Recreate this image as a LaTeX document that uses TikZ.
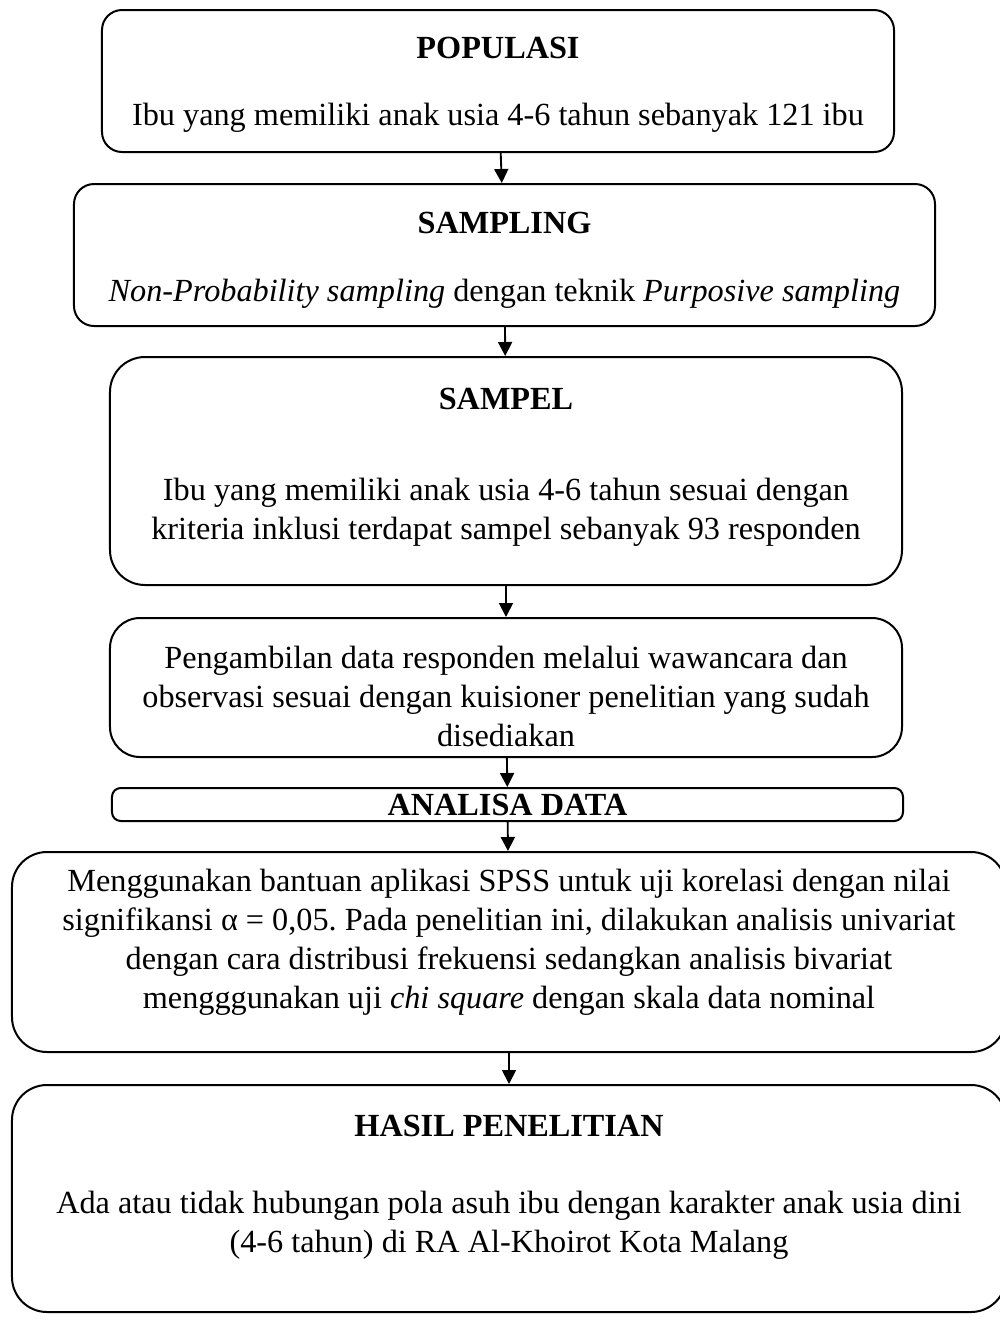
\documentclass[tikz,border=0pt]{standalone}
\usepackage{fontspec}
\setmainfont{Liberation Serif}
\usetikzlibrary{arrows.meta,positioning}
\frenchspacing
\newcommand{\pushdown}[1]{\rule{0pt}{#1}}
\newcommand{\pushup}[1]{\rule[-#1]{0pt}{#1}}
\tikzset{
  box/.style={draw,thick,align=center,inner sep=0pt,rounded corners=8pt,font=\fontsize{12.9pt}{15.6pt}\selectfont},
  bigbox/.style={box,rounded corners=14pt},
  arr/.style={-{Triangle[length=5.6pt,width=5.6pt]},line width=0.75pt}
}

\begin{document}
\begin{tikzpicture}[x=0.4pt,y=-0.4pt]
  \useasboundingbox (0,0) rectangle (1000,1322);

  % Populasi and sampling
  \node[box,minimum width=316.8pt,minimum height=56.8pt] (pop) at (498,81)
    {\pushdown{11.7pt}\textbf{POPULASI}\\[11.2pt]Ibu yang memiliki anak usia 4-6 tahun sebanyak 121 ibu};
  \node[box,minimum width=344.4pt,minimum height=56.8pt] (smpl) at (504.5,255)
    {\pushdown{12.5pt}\textbf{SAMPLING}\\[11.6pt]\textit{Non-Probability sampling} dengan teknik \textit{Purposive sampling}};
  \node[bigbox,minimum width=316.8pt,minimum height=91.2pt] (sampel) at (506,471)
    {\textbf{SAMPEL}\\[21pt]Ibu yang memiliki anak usia 4-6 tahun sesuai dengan\\kriteria inklusi terdapat sampel sebanyak 93 responden\pushup{5.6pt}};

  % Pengumpulan dan analisa
  \node[box,rounded corners=12pt,minimum width=316.8pt,minimum height=55.6pt] (ambil) at (506,687.5)
    {\pushdown{16.1pt}Pengambilan data responden melalui wawancara dan\\observasi sesuai dengan kuisioner penelitian yang sudah\\disediakan};
  \node[box,rounded corners=3.5pt,minimum width=316.4pt,minimum height=13.2pt] (analisa) at (507.5,804.5)
    {\textbf{ANALISA DATA}};
  \node[bigbox,minimum width=397.6pt,minimum height=80pt] (uji) at (509,952)
    {Menggunakan bantuan aplikasi SPSS untuk uji korelasi dengan nilai\\signifikansi α = 0,05. Pada penelitian ini, dilakukan analisis univariat\\dengan cara distribusi frekuensi sedangkan analisis bivariat\\mengggunakan uji \textit{chi square} dengan skala data nominal\pushup{10.8pt}};
  \node[bigbox,minimum width=397.6pt,minimum height=90.8pt] (hasil) at (509,1198.5)
    {\textbf{HASIL PENELITIAN}\\[15pt]Ada atau tidak hubungan pola asuh ibu dengan karakter anak usia dini\\(4-6 tahun) di RA Al-Khoirot Kota Malang\pushup{11.6pt}};

  \draw[arr] (pop)--(smpl);
  \draw[arr] (smpl)--(sampel);
  \draw[arr] (sampel)--(ambil);
  \draw[arr] (ambil)--(analisa);
  \draw[arr] (analisa)--(uji);
  \draw[arr] (uji)--(hasil);
\end{tikzpicture}
\end{document}
